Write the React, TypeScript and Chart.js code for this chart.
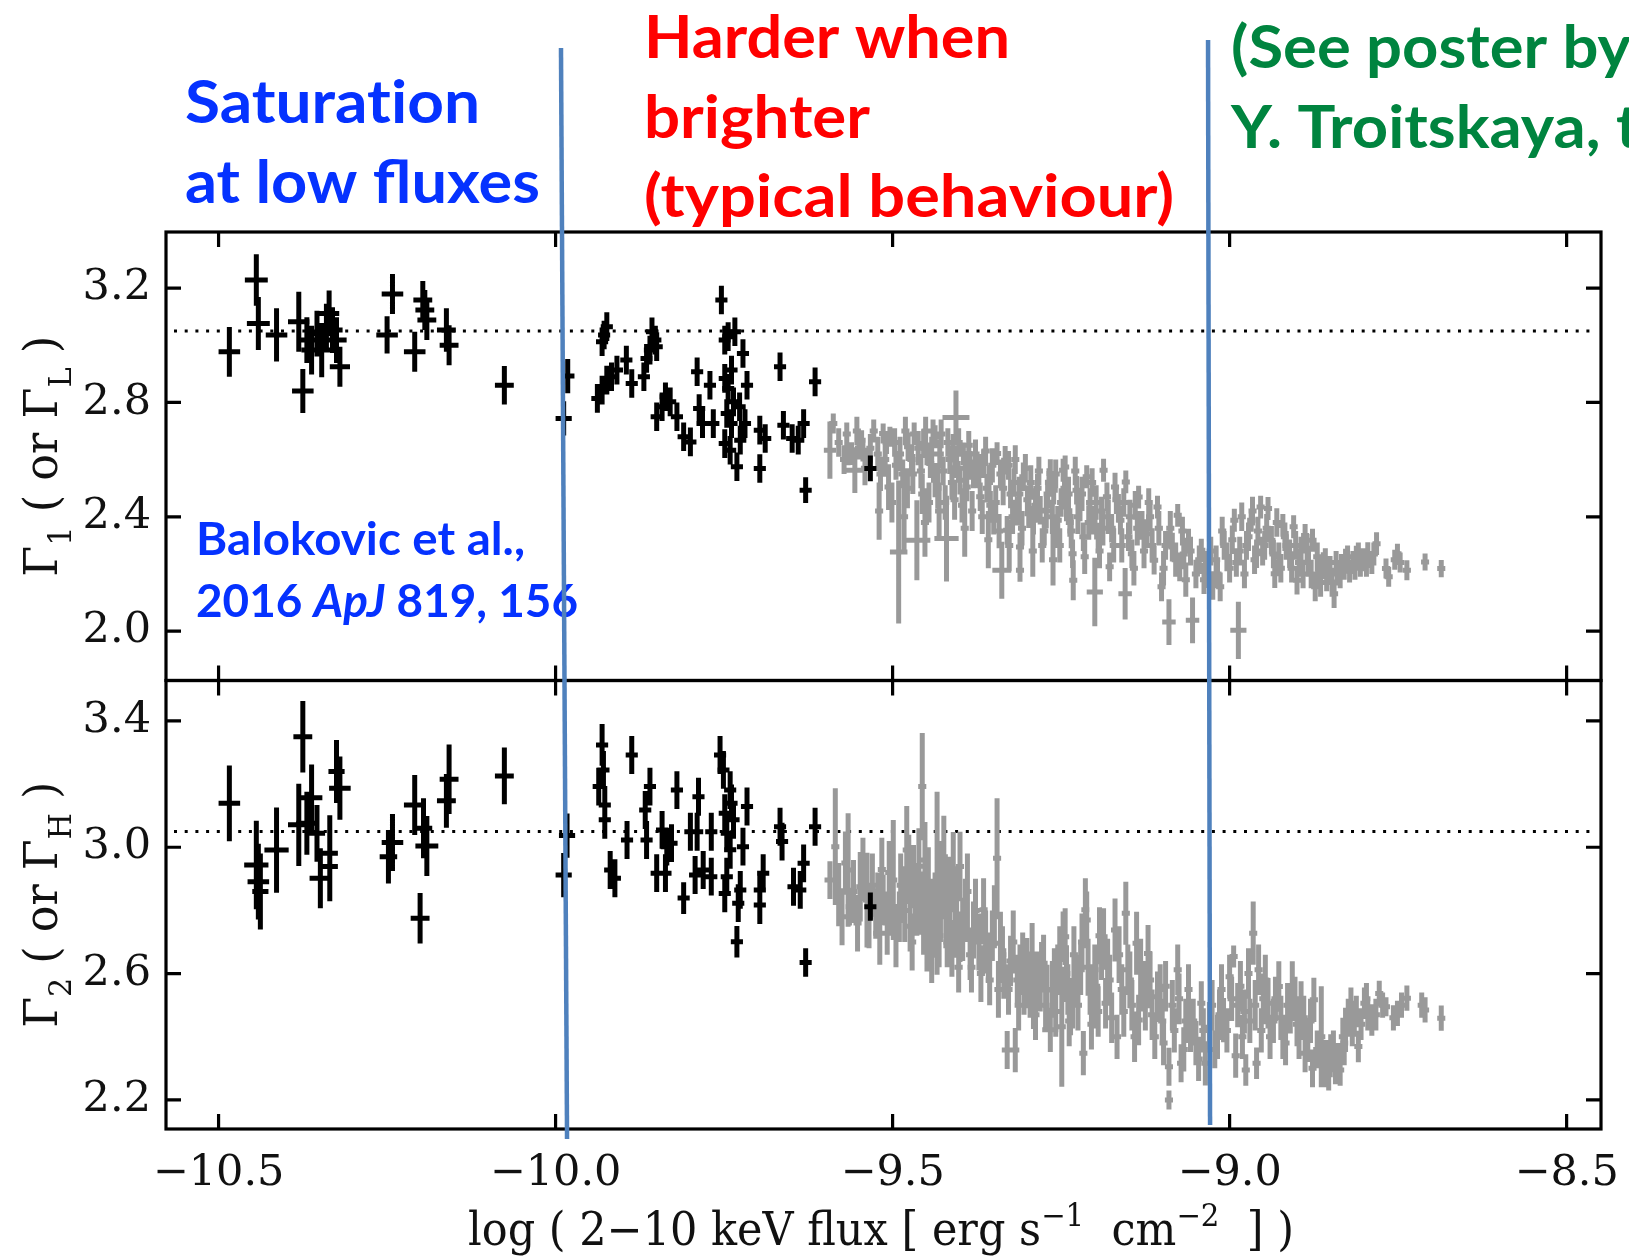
import React, { useEffect, useRef } from 'react';
import { Chart, registerables } from 'chart.js';

Chart.register(...registerables);

// [log flux, photon index, x error, y error]
type Pt = [number, number, number, number];

const xTickValues = [-10.5, -10.0, -9.5, -9.0, -8.5];
const topTickValues = [2.0, 2.4, 2.8, 3.2];
const bottomTickValues = [2.2, 2.6, 3.0, 3.4];
const xRange = [-10.578, -8.449];
const topRange = [1.8275, 3.396];
const bottomRange = [2.108, 3.528];
const referenceIndex = [3.05, 3.05];
// blue divider lines: [flux at top end, flux at bottom end]
const dividerFlux = [
  [-9.992, -9.983],
  [-9.032, -9.029],
];

const topBlack: Pt[] = [
  [-10.484, 2.977, 0.016, 0.087], [-10.444, 3.228, 0.017, 0.09], [-10.441, 3.076, 0.017, 0.093],
  [-10.414, 3.036, 0.016, 0.093], [-10.381, 3.082, 0.016, 0.105], [-10.375, 2.84, 0.016, 0.077],
  [-10.369, 3.018, 0.015, 0.08], [-10.362, 2.983, 0.015, 0.085], [-10.354, 3.041, 0.015, 0.08],
  [-10.347, 2.983, 0.015, 0.095], [-10.34, 3.065, 0.015, 0.08], [-10.336, 3.111, 0.015, 0.08],
  [-10.331, 3.053, 0.015, 0.08], [-10.325, 3.018, 0.015, 0.08], [-10.32, 2.925, 0.015, 0.07],
  [-10.25, 3.036, 0.016, 0.065], [-10.242, 3.179, 0.016, 0.07], [-10.209, 2.977, 0.016, 0.07],
  [-10.197, 3.158, 0.014, 0.067], [-10.194, 3.123, 0.014, 0.07], [-10.191, 3.088, 0.014, 0.07],
  [-10.162, 3.053, 0.014, 0.076], [-10.158, 3.0, 0.014, 0.07], [-10.076, 2.86, 0.014, 0.067],
  [-9.982, 2.892, 0.01, 0.06], [-9.988, 2.744, 0.012, 0.06],
  [-9.928, 3.036, 0.009, 0.05], [-9.924, 3.065, 0.009, 0.05], [-9.931, 3.012, 0.009, 0.05],
  [-9.938, 2.814, 0.009, 0.05], [-9.931, 2.843, 0.009, 0.05], [-9.924, 2.878, 0.009, 0.05],
  [-9.917, 2.89, 0.009, 0.05], [-9.909, 2.913, 0.009, 0.05], [-9.895, 2.948, 0.009, 0.05],
  [-9.887, 2.866, 0.009, 0.05], [-9.869, 2.89, 0.009, 0.05], [-9.865, 2.954, 0.009, 0.05],
  [-9.86, 2.983, 0.009, 0.05], [-9.857, 3.047, 0.009, 0.05], [-9.85, 2.995, 0.009, 0.05],
  [-9.852, 3.018, 0.009, 0.05], [-9.85, 2.75, 0.009, 0.05], [-9.842, 2.785, 0.009, 0.05],
  [-9.837, 2.82, 0.009, 0.05], [-9.83, 2.802, 0.009, 0.05], [-9.82, 2.75, 0.009, 0.05],
  [-9.81, 2.68, 0.009, 0.05], [-9.8, 2.662, 0.009, 0.05], [-9.79, 2.907, 0.009, 0.05],
  [-9.787, 2.779, 0.009, 0.05], [-9.782, 2.726, 0.009, 0.05], [-9.771, 2.86, 0.009, 0.05],
  [-9.766, 2.726, 0.009, 0.05], [-9.754, 3.158, 0.009, 0.05], [-9.749, 3.018, 0.009, 0.05],
  [-9.744, 3.03, 0.009, 0.05], [-9.734, 3.047, 0.009, 0.05], [-9.722, 2.971, 0.009, 0.05],
  [-9.749, 2.884, 0.009, 0.05], [-9.739, 2.913, 0.009, 0.05], [-9.744, 2.849, 0.009, 0.05],
  [-9.736, 2.802, 0.009, 0.05], [-9.727, 2.785, 0.009, 0.05], [-9.716, 2.86, 0.009, 0.05],
  [-9.746, 2.761, 0.009, 0.05], [-9.739, 2.726, 0.009, 0.05], [-9.749, 2.656, 0.009, 0.05],
  [-9.741, 2.633, 0.009, 0.05], [-9.731, 2.575, 0.009, 0.05], [-9.726, 2.668, 0.009, 0.05],
  [-9.719, 2.726, 0.009, 0.05], [-9.697, 2.703, 0.009, 0.05], [-9.689, 2.674, 0.009, 0.05],
  [-9.697, 2.569, 0.009, 0.05], [-9.667, 2.925, 0.009, 0.05], [-9.662, 2.72, 0.009, 0.05],
  [-9.649, 2.674, 0.009, 0.05], [-9.64, 2.668, 0.009, 0.05], [-9.632, 2.726, 0.009, 0.05],
  [-9.615, 2.872, 0.009, 0.05], [-9.629, 2.493, 0.009, 0.045], [-9.533, 2.569, 0.009, 0.045],
];

const topGray: Pt[] = [
  [-9.593, 2.633, 0.009, 0.1], [-9.588, 2.726, 0.006, 0.035], [-9.566, 2.62, 0.006, 0.04],
  [-9.561, 2.621, 0.008, 0.04], [-9.556, 2.563, 0.014, 0.08], [-9.55, 2.64, 0.006, 0.04],
  [-9.546, 2.668, 0.006, 0.035], [-9.544, 2.633, 0.006, 0.04], [-9.538, 2.6, 0.006, 0.04],
  [-9.514, 2.691, 0.006, 0.035], [-9.509, 2.66, 0.006, 0.04], [-9.504, 2.68, 0.006, 0.035],
  [-9.506, 2.504, 0.006, 0.08], [-9.491, 2.277, 0.013, 0.25], [-9.495, 2.58, 0.006, 0.05],
  [-9.485, 2.55, 0.006, 0.05], [-9.477, 2.645, 0.006, 0.05], [-9.472, 2.6, 0.006, 0.05],
  [-9.468, 2.69, 0.006, 0.04], [-9.464, 2.318, 0.02, 0.14], [-9.458, 2.56, 0.006, 0.06],
  [-9.454, 2.656, 0.006, 0.05], [-9.449, 2.62, 0.006, 0.04], [-9.444, 2.586, 0.006, 0.05],
  [-9.44, 2.7, 0.006, 0.04], [-9.437, 2.68, 0.006, 0.04], [-9.437, 2.528, 0.006, 0.06],
  [-9.43, 2.62, 0.006, 0.05], [-9.425, 2.56, 0.006, 0.05], [-9.42, 2.324, 0.018, 0.15],
  [-9.415, 2.6, 0.006, 0.05], [-9.41, 2.64, 0.006, 0.05], [-9.406, 2.747, 0.02, 0.095],
  [-9.405, 2.586, 0.006, 0.05], [-9.4, 2.528, 0.006, 0.05], [-9.395, 2.62, 0.006, 0.04],
  [-9.39, 2.504, 0.006, 0.05], [-9.385, 2.58, 0.006, 0.05], [-9.38, 2.55, 0.006, 0.05],
  [-9.375, 2.551, 0.006, 0.05], [-9.37, 2.47, 0.006, 0.05], [-9.365, 2.586, 0.006, 0.05],
  [-9.36, 2.5, 0.006, 0.05], [-9.355, 2.44, 0.006, 0.05], [-9.35, 2.388, 0.006, 0.05],
  [-9.345, 2.621, 0.006, 0.04], [-9.34, 2.55, 0.006, 0.05], [-9.338, 2.213, 0.014, 0.1],
  [-9.333, 2.598, 0.006, 0.05], [-9.33, 2.353, 0.006, 0.05], [-9.325, 2.48, 0.006, 0.05],
  [-9.32, 2.52, 0.006, 0.05], [-9.315, 2.42, 0.006, 0.05], [-9.311, 2.294, 0.006, 0.05],
  [-9.311, 2.213, 0.006, 0.04], [-9.306, 2.54, 0.006, 0.05], [-9.3, 2.46, 0.006, 0.05],
  [-9.298, 2.411, 0.006, 0.05], [-9.291, 2.388, 0.006, 0.05], [-9.285, 2.5, 0.006, 0.05],
  [-9.281, 2.423, 0.006, 0.05], [-9.275, 2.35, 0.006, 0.05], [-9.27, 2.48, 0.006, 0.05],
  [-9.266, 2.551, 0.006, 0.05], [-9.261, 2.493, 0.006, 0.05], [-9.256, 2.341, 0.006, 0.05],
  [-9.255, 2.388, 0.006, 0.05], [-9.25, 2.45, 0.006, 0.05], [-9.247, 2.563, 0.006, 0.04],
  [-9.244, 2.574, 0.006, 0.04], [-9.242, 2.434, 0.006, 0.05], [-9.237, 2.38, 0.006, 0.05],
  [-9.233, 2.271, 0.006, 0.05], [-9.232, 2.178, 0.006, 0.07], [-9.227, 2.493, 0.006, 0.05],
  [-9.222, 2.434, 0.006, 0.05], [-9.217, 2.33, 0.006, 0.05], [-9.212, 2.54, 0.006, 0.04],
  [-9.207, 2.45, 0.006, 0.05], [-9.202, 2.388, 0.006, 0.05], [-9.2, 2.137, 0.012, 0.12],
  [-9.195, 2.329, 0.006, 0.05], [-9.19, 2.42, 0.006, 0.05], [-9.187, 2.563, 0.006, 0.04],
  [-9.182, 2.47, 0.006, 0.05], [-9.178, 2.225, 0.006, 0.05], [-9.175, 2.36, 0.006, 0.05],
  [-9.17, 2.504, 0.006, 0.05], [-9.165, 2.43, 0.006, 0.05], [-9.162, 2.388, 0.006, 0.05],
  [-9.155, 2.131, 0.01, 0.09], [-9.154, 2.522, 0.006, 0.04], [-9.15, 2.33, 0.006, 0.05],
  [-9.145, 2.271, 0.006, 0.05], [-9.14, 2.44, 0.006, 0.05], [-9.135, 2.469, 0.006, 0.04],
  [-9.13, 2.37, 0.006, 0.05], [-9.123, 2.341, 0.006, 0.05], [-9.118, 2.4, 0.006, 0.05],
  [-9.112, 2.248, 0.006, 0.05], [-9.107, 2.434, 0.006, 0.04], [-9.101, 2.155, 0.006, 0.05],
  [-9.095, 2.3, 0.006, 0.05], [-9.09, 2.032, 0.01, 0.08], [-9.085, 2.294, 0.006, 0.05],
  [-9.077, 2.405, 0.006, 0.04], [-9.074, 2.225, 0.006, 0.05], [-9.068, 2.27, 0.006, 0.05],
  [-9.061, 2.318, 0.006, 0.04], [-9.055, 2.038, 0.01, 0.08], [-9.05, 2.2, 0.006, 0.05],
  [-9.042, 2.283, 0.006, 0.04], [-9.036, 2.23, 0.006, 0.05], [-9.031, 2.201, 0.006, 0.05],
  [-9.025, 2.16, 0.006, 0.05], [-9.02, 2.25, 0.006, 0.05], [-9.014, 2.155, 0.006, 0.05],
  [-9.008, 2.3, 0.006, 0.05], [-9.0, 2.22, 0.006, 0.05], [-8.993, 2.388, 0.006, 0.04],
  [-8.987, 2.003, 0.012, 0.1], [-8.985, 2.28, 0.006, 0.05], [-8.978, 2.2, 0.006, 0.05],
  [-8.972, 2.33, 0.006, 0.05], [-8.968, 2.388, 0.006, 0.04], [-8.963, 2.25, 0.006, 0.05],
  [-8.96, 2.271, 0.006, 0.05], [-8.954, 2.434, 0.006, 0.04], [-8.948, 2.3, 0.006, 0.05],
  [-8.943, 2.429, 0.006, 0.04], [-8.938, 2.318, 0.006, 0.05], [-8.933, 2.201, 0.006, 0.05],
  [-8.927, 2.26, 0.006, 0.05], [-8.921, 2.37, 0.006, 0.04], [-8.916, 2.3, 0.006, 0.05],
  [-8.911, 2.271, 0.006, 0.05], [-8.905, 2.365, 0.006, 0.04], [-8.9, 2.178, 0.006, 0.05],
  [-8.894, 2.28, 0.006, 0.05], [-8.888, 2.335, 0.006, 0.04], [-8.883, 2.24, 0.006, 0.05],
  [-8.877, 2.318, 0.006, 0.04], [-8.873, 2.155, 0.006, 0.05], [-8.867, 2.21, 0.006, 0.05],
  [-8.861, 2.236, 0.006, 0.04], [-8.856, 2.19, 0.006, 0.05], [-8.851, 2.213, 0.006, 0.05],
  [-8.845, 2.131, 0.006, 0.05], [-8.84, 2.2, 0.006, 0.04], [-8.834, 2.23, 0.006, 0.04],
  [-8.828, 2.248, 0.006, 0.04], [-8.822, 2.21, 0.006, 0.04], [-8.817, 2.24, 0.006, 0.04],
  [-8.812, 2.259, 0.006, 0.04], [-8.806, 2.23, 0.006, 0.04], [-8.8, 2.25, 0.006, 0.04],
  [-8.795, 2.271, 0.006, 0.04], [-8.789, 2.24, 0.006, 0.04], [-8.782, 2.306, 0.006, 0.04],
  [-8.768, 2.219, 0.006, 0.035], [-8.751, 2.271, 0.006, 0.035], [-8.747, 2.24, 0.006, 0.035],
  [-8.737, 2.213, 0.006, 0.035], [-8.71, 2.242, 0.006, 0.03], [-8.686, 2.219, 0.006, 0.03],
  [-9.58, 2.66, 0.006, 0.05], [-9.572, 2.6, 0.006, 0.05], [-9.568, 2.69, 0.006, 0.04],
  [-9.553, 2.7, 0.006, 0.05], [-9.541, 2.57, 0.006, 0.06], [-9.533, 2.64, 0.006, 0.05],
  [-9.528, 2.7, 0.006, 0.04], [-9.522, 2.62, 0.006, 0.06], [-9.518, 2.55, 0.006, 0.06],
  [-9.511, 2.6, 0.006, 0.06], [-9.501, 2.45, 0.006, 0.07], [-9.497, 2.66, 0.006, 0.05],
  [-9.489, 2.62, 0.006, 0.06], [-9.481, 2.7, 0.006, 0.05], [-9.478, 2.5, 0.006, 0.07],
  [-9.47, 2.55, 0.006, 0.07], [-9.462, 2.64, 0.006, 0.06], [-9.456, 2.48, 0.006, 0.07],
  [-9.451, 2.7, 0.006, 0.05], [-9.446, 2.45, 0.006, 0.07], [-9.442, 2.62, 0.006, 0.06],
  [-9.433, 2.5, 0.006, 0.07], [-9.428, 2.69, 0.006, 0.05], [-9.422, 2.45, 0.006, 0.06],
  [-9.418, 2.66, 0.006, 0.05], [-9.412, 2.52, 0.006, 0.06], [-9.408, 2.46, 0.006, 0.07],
  [-9.402, 2.66, 0.006, 0.05], [-9.397, 2.44, 0.006, 0.06], [-9.392, 2.57, 0.006, 0.06],
  [-9.387, 2.65, 0.006, 0.05], [-9.382, 2.42, 0.006, 0.07], [-9.377, 2.62, 0.006, 0.05],
  [-9.372, 2.56, 0.006, 0.06], [-9.367, 2.4, 0.006, 0.06], [-9.362, 2.63, 0.006, 0.05],
  [-9.357, 2.52, 0.006, 0.06], [-9.352, 2.58, 0.006, 0.06], [-9.347, 2.45, 0.006, 0.06],
  [-9.342, 2.35, 0.006, 0.06], [-9.336, 2.5, 0.006, 0.06], [-9.328, 2.58, 0.006, 0.05],
  [-9.322, 2.4, 0.006, 0.06], [-9.318, 2.6, 0.006, 0.05], [-9.312, 2.48, 0.006, 0.06],
  [-9.308, 2.36, 0.006, 0.06], [-9.303, 2.57, 0.006, 0.05], [-9.295, 2.52, 0.006, 0.06],
  [-9.288, 2.44, 0.006, 0.06], [-9.283, 2.56, 0.006, 0.05], [-9.278, 2.3, 0.006, 0.06],
  [-9.272, 2.42, 0.006, 0.06], [-9.268, 2.52, 0.006, 0.05], [-9.263, 2.4, 0.006, 0.06],
  [-9.258, 2.55, 0.006, 0.05], [-9.252, 2.3, 0.006, 0.06], [-9.245, 2.5, 0.006, 0.05],
  [-9.239, 2.48, 0.006, 0.06], [-9.235, 2.35, 0.006, 0.06], [-9.229, 2.56, 0.006, 0.05],
  [-9.225, 2.4, 0.006, 0.06], [-9.219, 2.48, 0.006, 0.06], [-9.215, 2.26, 0.006, 0.06],
  [-9.209, 2.38, 0.006, 0.06], [-9.204, 2.52, 0.006, 0.05], [-9.198, 2.45, 0.006, 0.06],
  [-9.193, 2.28, 0.006, 0.06], [-9.188, 2.36, 0.006, 0.06], [-9.18, 2.4, 0.006, 0.06],
  [-9.172, 2.3, 0.006, 0.06], [-9.168, 2.46, 0.006, 0.05], [-9.16, 2.3, 0.006, 0.06],
  [-9.157, 2.45, 0.006, 0.05], [-9.148, 2.4, 0.006, 0.06], [-9.142, 2.22, 0.006, 0.06],
  [-9.137, 2.36, 0.006, 0.06], [-9.127, 2.28, 0.006, 0.06], [-9.12, 2.45, 0.006, 0.05],
  [-9.115, 2.3, 0.006, 0.06], [-9.105, 2.36, 0.006, 0.06], [-9.098, 2.22, 0.006, 0.06],
  [-9.088, 2.36, 0.006, 0.06], [-9.08, 2.25, 0.006, 0.06], [-9.07, 2.35, 0.006, 0.05],
  [-9.065, 2.18, 0.006, 0.06], [-9.058, 2.28, 0.006, 0.05], [-9.045, 2.25, 0.006, 0.05],
  [-9.038, 2.18, 0.006, 0.05], [-9.028, 2.28, 0.006, 0.05], [-9.018, 2.2, 0.006, 0.05],
  [-9.011, 2.35, 0.006, 0.05], [-9.004, 2.26, 0.006, 0.05], [-8.996, 2.32, 0.006, 0.05],
  [-8.99, 2.24, 0.006, 0.05], [-8.982, 2.4, 0.006, 0.05], [-8.975, 2.3, 0.006, 0.05],
  [-8.966, 2.42, 0.006, 0.05], [-8.958, 2.35, 0.006, 0.05], [-8.951, 2.28, 0.006, 0.05],
  [-8.945, 2.36, 0.006, 0.05], [-8.935, 2.27, 0.006, 0.05], [-8.93, 2.38, 0.006, 0.05],
  [-8.924, 2.22, 0.006, 0.05], [-8.918, 2.33, 0.006, 0.05], [-8.908, 2.22, 0.006, 0.05],
  [-8.902, 2.3, 0.006, 0.05], [-8.897, 2.24, 0.006, 0.05], [-8.891, 2.2, 0.006, 0.05],
  [-8.885, 2.29, 0.006, 0.05], [-8.879, 2.2, 0.006, 0.05], [-8.87, 2.26, 0.006, 0.05],
  [-8.865, 2.17, 0.006, 0.05], [-8.858, 2.24, 0.006, 0.05], [-8.848, 2.17, 0.006, 0.05],
  [-8.842, 2.24, 0.006, 0.04], [-8.836, 2.19, 0.006, 0.04], [-8.83, 2.22, 0.006, 0.04],
  [-8.825, 2.26, 0.006, 0.04], [-8.814, 2.22, 0.006, 0.04], [-8.809, 2.27, 0.006, 0.04],
  [-8.803, 2.25, 0.006, 0.04], [-8.797, 2.23, 0.006, 0.04], [-8.786, 2.27, 0.006, 0.04],
  [-8.764, 2.19, 0.006, 0.035], [-8.755, 2.25, 0.006, 0.035],
  [-9.52, 2.42, 0.006, 0.1], [-9.483, 2.4, 0.006, 0.12], [-9.452, 2.38, 0.006, 0.12],
  [-9.431, 2.42, 0.006, 0.1], [-9.393, 2.36, 0.006, 0.1], [-9.358, 2.32, 0.006, 0.1],
  [-9.327, 2.3, 0.006, 0.09], [-9.292, 2.28, 0.006, 0.09], [-9.262, 2.25, 0.006, 0.09],
];

const bottomBlack: Pt[] = [
  [-10.484, 3.139, 0.016, 0.12], [-10.375, 3.35, 0.014, 0.113], [-10.444, 2.944, 0.018, 0.14],
  [-10.441, 2.891, 0.016, 0.12], [-10.438, 2.86, 0.012, 0.12], [-10.414, 2.991, 0.018, 0.135],
  [-10.381, 3.071, 0.016, 0.13], [-10.369, 3.076, 0.016, 0.1], [-10.362, 3.157, 0.016, 0.105],
  [-10.354, 3.044, 0.012, 0.09], [-10.349, 2.902, 0.016, 0.095], [-10.335, 2.981, 0.012, 0.12],
  [-10.335, 2.939, 0.012, 0.11], [-10.325, 3.24, 0.012, 0.1], [-10.32, 3.187, 0.016, 0.1],
  [-10.248, 2.97, 0.013, 0.085], [-10.242, 3.015, 0.016, 0.09], [-10.209, 3.134, 0.016, 0.095],
  [-10.196, 3.06, 0.013, 0.095], [-10.191, 3.004, 0.017, 0.095], [-10.201, 2.775, 0.014, 0.08],
  [-10.162, 3.147, 0.014, 0.085], [-10.158, 3.215, 0.014, 0.11], [-10.076, 3.226, 0.014, 0.09],
  [-9.983, 3.037, 0.012, 0.07], [-9.988, 2.912, 0.012, 0.07],
  [-9.931, 3.324, 0.009, 0.066], [-9.929, 3.245, 0.009, 0.06], [-9.936, 3.192, 0.009, 0.06],
  [-9.927, 3.134, 0.009, 0.06], [-9.927, 3.087, 0.009, 0.06], [-9.887, 3.292, 0.009, 0.06],
  [-9.919, 2.928, 0.009, 0.06], [-9.912, 2.902, 0.009, 0.06], [-9.894, 3.023, 0.009, 0.06],
  [-9.86, 3.192, 0.009, 0.06], [-9.867, 3.118, 0.009, 0.06], [-9.865, 3.023, 0.009, 0.06],
  [-9.85, 2.918, 0.009, 0.06], [-9.842, 3.055, 0.009, 0.06], [-9.835, 3.002, 0.009, 0.06],
  [-9.828, 3.013, 0.009, 0.06], [-9.837, 2.918, 0.009, 0.06], [-9.82, 3.181, 0.009, 0.06],
  [-9.81, 2.839, 0.009, 0.05], [-9.8, 3.049, 0.009, 0.06], [-9.79, 3.049, 0.009, 0.06],
  [-9.788, 3.16, 0.009, 0.06], [-9.793, 2.912, 0.009, 0.06], [-9.781, 2.928, 0.009, 0.06],
  [-9.769, 3.049, 0.009, 0.06], [-9.769, 2.907, 0.009, 0.06], [-9.756, 3.292, 0.009, 0.06],
  [-9.751, 3.245, 0.009, 0.06], [-9.749, 3.108, 0.009, 0.06], [-9.741, 3.181, 0.009, 0.06],
  [-9.739, 3.139, 0.009, 0.06], [-9.736, 3.087, 0.009, 0.06], [-9.746, 3.044, 0.009, 0.06],
  [-9.741, 2.992, 0.009, 0.06], [-9.746, 2.907, 0.009, 0.06], [-9.749, 2.854, 0.009, 0.06],
  [-9.726, 2.865, 0.009, 0.06], [-9.729, 2.823, 0.009, 0.06], [-9.722, 3.002, 0.009, 0.06],
  [-9.716, 3.129, 0.009, 0.06], [-9.731, 2.701, 0.009, 0.05], [-9.697, 2.865, 0.009, 0.06],
  [-9.692, 2.918, 0.009, 0.06], [-9.697, 2.817, 0.009, 0.06], [-9.667, 3.065, 0.009, 0.06],
  [-9.664, 3.018, 0.009, 0.06], [-9.647, 2.875, 0.009, 0.06], [-9.637, 2.865, 0.009, 0.06],
  [-9.632, 2.949, 0.009, 0.06], [-9.615, 3.065, 0.009, 0.06], [-9.629, 2.635, 0.009, 0.045],
  [-9.533, 2.812, 0.009, 0.045],
];

const bottomGray: Pt[] = [
  [-9.593, 2.896, 0.008, 0.06], [-9.585, 3.002, 0.006, 0.185], [-9.566, 2.928, 0.006, 0.18],
  [-9.564, 2.812, 0.006, 0.06], [-9.548, 2.875, 0.006, 0.11], [-9.538, 2.833, 0.006, 0.15],
  [-9.525, 2.79, 0.006, 0.08], [-9.519, 2.728, 0.01, 0.1], [-9.514, 2.833, 0.006, 0.08],
  [-9.505, 2.92, 0.006, 0.1], [-9.499, 2.896, 0.006, 0.19], [-9.49, 2.78, 0.006, 0.08],
  [-9.485, 2.85, 0.006, 0.09], [-9.479, 2.991, 0.006, 0.14], [-9.474, 2.75, 0.006, 0.08],
  [-9.469, 2.907, 0.006, 0.1], [-9.464, 2.82, 0.006, 0.1], [-9.459, 2.823, 0.006, 0.1],
  [-9.456, 3.192, 0.006, 0.17], [-9.452, 2.96, 0.006, 0.12], [-9.449, 2.717, 0.006, 0.11],
  [-9.444, 2.8, 0.006, 0.1], [-9.439, 2.74, 0.006, 0.09], [-9.434, 2.886, 0.006, 0.29],
  [-9.429, 2.8, 0.006, 0.1], [-9.424, 2.97, 0.006, 0.13], [-9.419, 2.7, 0.006, 0.08],
  [-9.415, 2.802, 0.006, 0.1], [-9.41, 2.928, 0.006, 0.12], [-9.405, 2.75, 0.006, 0.1],
  [-9.4, 2.939, 0.006, 0.11], [-9.4, 2.717, 0.006, 0.08], [-9.392, 2.8, 0.006, 0.1],
  [-9.385, 2.66, 0.006, 0.08], [-9.38, 2.738, 0.006, 0.09], [-9.372, 2.7, 0.006, 0.09],
  [-9.365, 2.802, 0.006, 0.1], [-9.358, 2.65, 0.006, 0.08], [-9.352, 2.72, 0.006, 0.08],
  [-9.345, 2.965, 0.006, 0.19], [-9.34, 2.696, 0.006, 0.1], [-9.335, 2.6, 0.006, 0.08],
  [-9.33, 2.358, 0.008, 0.06], [-9.325, 2.64, 0.006, 0.08], [-9.318, 2.358, 0.006, 0.07],
  [-9.315, 2.58, 0.006, 0.08], [-9.311, 2.612, 0.006, 0.08], [-9.305, 2.55, 0.006, 0.08],
  [-9.301, 2.633, 0.006, 0.08], [-9.296, 2.53, 0.006, 0.07], [-9.291, 2.495, 0.006, 0.07],
  [-9.286, 2.59, 0.006, 0.08], [-9.281, 2.56, 0.006, 0.08], [-9.276, 2.633, 0.006, 0.09],
  [-9.271, 2.548, 0.006, 0.08], [-9.266, 2.422, 0.012, 0.07], [-9.26, 2.6, 0.006, 0.08],
  [-9.255, 2.612, 0.006, 0.08], [-9.249, 2.432, 0.006, 0.19], [-9.247, 2.717, 0.006, 0.08],
  [-9.244, 2.717, 0.006, 0.09], [-9.24, 2.55, 0.006, 0.08], [-9.236, 2.485, 0.006, 0.08],
  [-9.233, 2.506, 0.006, 0.08], [-9.228, 2.58, 0.006, 0.08], [-9.221, 2.612, 0.006, 0.08],
  [-9.217, 2.348, 0.006, 0.07], [-9.214, 2.802, 0.006, 0.1], [-9.212, 2.77, 0.006, 0.09],
  [-9.207, 2.55, 0.006, 0.08], [-9.202, 2.506, 0.006, 0.08], [-9.2, 2.612, 0.006, 0.08],
  [-9.195, 2.48, 0.006, 0.08], [-9.19, 2.66, 0.006, 0.08], [-9.187, 2.717, 0.006, 0.09],
  [-9.184, 2.506, 0.006, 0.08], [-9.178, 2.58, 0.006, 0.08], [-9.17, 2.738, 0.006, 0.1],
  [-9.167, 2.4, 0.006, 0.07], [-9.16, 2.55, 0.006, 0.08], [-9.154, 2.791, 0.006, 0.1],
  [-9.151, 2.612, 0.006, 0.08], [-9.145, 2.5, 0.006, 0.08], [-9.138, 2.696, 0.006, 0.1],
  [-9.135, 2.453, 0.006, 0.08], [-9.128, 2.56, 0.006, 0.08], [-9.121, 2.664, 0.006, 0.09],
  [-9.115, 2.47, 0.006, 0.08], [-9.107, 2.527, 0.006, 0.08], [-9.1, 2.45, 0.006, 0.07],
  [-9.095, 2.56, 0.006, 0.08], [-9.09, 2.305, 0.006, 0.06], [-9.09, 2.2, 0.006, 0.03],
  [-9.085, 2.5, 0.006, 0.08], [-9.077, 2.612, 0.006, 0.08], [-9.072, 2.316, 0.006, 0.06],
  [-9.065, 2.45, 0.006, 0.07], [-9.058, 2.422, 0.006, 0.07], [-9.05, 2.38, 0.006, 0.07],
  [-9.042, 2.506, 0.006, 0.07], [-9.036, 2.316, 0.006, 0.07], [-9.03, 2.43, 0.006, 0.08],
  [-9.022, 2.36, 0.006, 0.06], [-9.015, 2.47, 0.006, 0.08], [-9.009, 2.453, 0.006, 0.07],
  [-9.0, 2.59, 0.006, 0.07], [-8.994, 2.654, 0.006, 0.035], [-8.988, 2.5, 0.006, 0.07],
  [-8.981, 2.4, 0.006, 0.07], [-8.976, 2.295, 0.006, 0.05], [-8.97, 2.45, 0.006, 0.07],
  [-8.965, 2.728, 0.006, 0.1], [-8.96, 2.316, 0.006, 0.05], [-8.957, 2.612, 0.006, 0.08],
  [-8.95, 2.52, 0.006, 0.08], [-8.943, 2.506, 0.006, 0.08], [-8.935, 2.45, 0.006, 0.07],
  [-8.927, 2.559, 0.006, 0.08], [-8.921, 2.4, 0.006, 0.07], [-8.914, 2.5, 0.006, 0.07],
  [-8.907, 2.559, 0.006, 0.08], [-8.9, 2.44, 0.006, 0.07], [-8.894, 2.506, 0.006, 0.07],
  [-8.888, 2.348, 0.006, 0.06], [-8.88, 2.45, 0.006, 0.07], [-8.875, 2.517, 0.006, 0.07],
  [-8.864, 2.4, 0.006, 0.16], [-8.857, 2.33, 0.006, 0.06], [-8.85, 2.348, 0.006, 0.06],
  [-8.843, 2.3, 0.006, 0.05], [-8.836, 2.295, 0.006, 0.05], [-8.83, 2.38, 0.006, 0.07],
  [-8.828, 2.422, 0.006, 0.07], [-8.82, 2.506, 0.006, 0.05], [-8.815, 2.45, 0.006, 0.05],
  [-8.809, 2.369, 0.006, 0.05], [-8.8, 2.506, 0.006, 0.05], [-8.795, 2.47, 0.006, 0.05],
  [-8.789, 2.453, 0.006, 0.05], [-8.778, 2.537, 0.006, 0.04], [-8.768, 2.495, 0.006, 0.03],
  [-8.751, 2.474, 0.006, 0.04], [-8.737, 2.522, 0.006, 0.04], [-8.71, 2.485, 0.006, 0.04],
  [-8.686, 2.459, 0.006, 0.04],
  [-9.58, 2.85, 0.006, 0.1], [-9.575, 2.78, 0.006, 0.09], [-9.57, 2.95, 0.006, 0.1],
  [-9.558, 2.86, 0.006, 0.1], [-9.552, 2.76, 0.006, 0.09], [-9.544, 2.93, 0.006, 0.1],
  [-9.535, 2.78, 0.006, 0.1], [-9.53, 2.88, 0.006, 0.1], [-9.522, 2.82, 0.006, 0.1],
  [-9.516, 2.93, 0.006, 0.1], [-9.508, 2.76, 0.006, 0.1], [-9.502, 2.84, 0.006, 0.12],
  [-9.495, 2.72, 0.006, 0.1], [-9.488, 2.88, 0.006, 0.1], [-9.482, 2.8, 0.006, 0.1],
  [-9.476, 2.93, 0.006, 0.11], [-9.471, 2.7, 0.006, 0.09], [-9.466, 2.85, 0.006, 0.1],
  [-9.461, 2.94, 0.006, 0.12], [-9.454, 2.76, 0.006, 0.1], [-9.447, 2.88, 0.006, 0.12],
  [-9.442, 2.66, 0.006, 0.09], [-9.437, 2.82, 0.006, 0.1], [-9.431, 2.72, 0.006, 0.1],
  [-9.427, 2.9, 0.006, 0.12], [-9.421, 2.78, 0.006, 0.1], [-9.417, 2.86, 0.006, 0.11],
  [-9.412, 2.68, 0.006, 0.09], [-9.407, 2.84, 0.006, 0.1], [-9.402, 2.62, 0.006, 0.08],
  [-9.396, 2.74, 0.006, 0.1], [-9.389, 2.86, 0.006, 0.12], [-9.383, 2.62, 0.006, 0.08],
  [-9.377, 2.8, 0.006, 0.1], [-9.369, 2.6, 0.006, 0.09], [-9.362, 2.7, 0.006, 0.1],
  [-9.356, 2.58, 0.006, 0.08], [-9.349, 2.78, 0.006, 0.1], [-9.343, 2.55, 0.006, 0.09],
  [-9.337, 2.66, 0.006, 0.09], [-9.328, 2.55, 0.006, 0.08], [-9.321, 2.7, 0.006, 0.1],
  [-9.313, 2.5, 0.006, 0.08], [-9.307, 2.64, 0.006, 0.09], [-9.299, 2.58, 0.006, 0.09],
  [-9.293, 2.66, 0.006, 0.1], [-9.288, 2.47, 0.006, 0.08], [-9.279, 2.62, 0.006, 0.08],
  [-9.273, 2.5, 0.006, 0.08], [-9.263, 2.55, 0.006, 0.09], [-9.258, 2.48, 0.006, 0.08],
  [-9.252, 2.66, 0.006, 0.09], [-9.242, 2.6, 0.006, 0.09], [-9.238, 2.45, 0.006, 0.08],
  [-9.231, 2.66, 0.006, 0.09], [-9.225, 2.5, 0.006, 0.08], [-9.219, 2.7, 0.006, 0.09],
  [-9.21, 2.62, 0.006, 0.09], [-9.205, 2.44, 0.006, 0.08], [-9.198, 2.56, 0.006, 0.08],
  [-9.193, 2.72, 0.006, 0.09], [-9.181, 2.62, 0.006, 0.09], [-9.175, 2.46, 0.006, 0.08],
  [-9.164, 2.66, 0.006, 0.09], [-9.157, 2.48, 0.006, 0.08], [-9.148, 2.58, 0.006, 0.09],
  [-9.141, 2.4, 0.006, 0.08], [-9.132, 2.62, 0.006, 0.09], [-9.125, 2.5, 0.006, 0.08],
  [-9.118, 2.58, 0.006, 0.09], [-9.111, 2.4, 0.006, 0.07], [-9.103, 2.55, 0.006, 0.08],
  [-9.098, 2.38, 0.006, 0.07], [-9.082, 2.42, 0.006, 0.07], [-9.075, 2.52, 0.006, 0.08],
  [-9.068, 2.36, 0.006, 0.07], [-9.061, 2.55, 0.006, 0.08], [-9.054, 2.45, 0.006, 0.07],
  [-9.046, 2.33, 0.006, 0.07], [-9.039, 2.42, 0.006, 0.07], [-9.026, 2.5, 0.006, 0.08],
  [-9.018, 2.4, 0.006, 0.07], [-9.012, 2.55, 0.006, 0.08], [-9.004, 2.42, 0.006, 0.07],
  [-8.997, 2.52, 0.006, 0.07], [-8.991, 2.34, 0.006, 0.07], [-8.984, 2.56, 0.006, 0.08],
  [-8.978, 2.48, 0.006, 0.07], [-8.972, 2.6, 0.006, 0.08], [-8.962, 2.5, 0.006, 0.08],
  [-8.953, 2.42, 0.006, 0.07], [-8.947, 2.58, 0.006, 0.08], [-8.94, 2.4, 0.006, 0.07],
  [-8.932, 2.52, 0.006, 0.07], [-8.924, 2.46, 0.006, 0.07], [-8.917, 2.38, 0.006, 0.07],
  [-8.91, 2.48, 0.006, 0.07], [-8.903, 2.52, 0.006, 0.07], [-8.897, 2.4, 0.006, 0.07],
  [-8.89, 2.46, 0.006, 0.07], [-8.884, 2.39, 0.006, 0.07], [-8.877, 2.3, 0.006, 0.06],
  [-8.87, 2.36, 0.006, 0.06], [-8.86, 2.3, 0.006, 0.06], [-8.853, 2.28, 0.006, 0.05],
  [-8.846, 2.36, 0.006, 0.06], [-8.839, 2.33, 0.006, 0.05], [-8.832, 2.4, 0.006, 0.06],
  [-8.824, 2.46, 0.006, 0.06], [-8.818, 2.42, 0.006, 0.05], [-8.812, 2.48, 0.006, 0.05],
  [-8.805, 2.44, 0.006, 0.05], [-8.797, 2.52, 0.006, 0.05], [-8.783, 2.47, 0.006, 0.05],
  [-8.773, 2.5, 0.006, 0.04], [-8.757, 2.46, 0.006, 0.04], [-8.745, 2.5, 0.006, 0.04],
  [-8.715, 2.5, 0.006, 0.04],
];

type Seg = { t: string; sub?: boolean; sup?: boolean; it?: boolean };

const BLUE = '#0532FF';
const RED = '#FF0000';
const GREEN = '#00843F';
const GRAY = '#999999';
const DIVIDER = '#4F81BD';

const noteLines: { segs: Seg[]; color: string; x: number; y: number; w?: number; sameScaleAs?: number; size: number }[] = [
  { segs: [{ t: 'Saturat' }, { t: 'ion' }], color: BLUE, x: 185, y: 123, w: 295, size: 60 },
  { segs: [{ t: 'at low fluxes' }], color: BLUE, x: 185, y: 203, w: 355, size: 60 },
  { segs: [{ t: 'Harder when' }], color: RED, x: 644, y: 58, w: 366, size: 60 },
  { segs: [{ t: 'brighter' }], color: RED, x: 644, y: 138, w: 226, size: 60 },
  { segs: [{ t: '(typical behaviour)' }], color: RED, x: 644, y: 217, w: 530, size: 60 },
  { segs: [{ t: '(See poster by' }], color: GREEN, x: 1231, y: 68, w: 400, size: 60 },
  { segs: [{ t: 'Y. Troitskaya, this conference)' }], color: GREEN, x: 1231, y: 148, sameScaleAs: 5, size: 60 },
  { segs: [{ t: 'Balokovic et al.,' }], color: BLUE, x: 196, y: 555, w: 329, size: 45 },
  { segs: [{ t: '2016 ' }, { t: 'ApJ', it: true }, { t: ' 819, 156' }], color: BLUE, x: 196, y: 617, w: 382, size: 45 },
];

const xTitle: Seg[] = [
  { t: 'log ( 2\u221210 keV flux [ erg s' }, { t: '\u22121', sup: true }, { t: '  cm' }, { t: '\u22122', sup: true }, { t: '  ] )' },
];
const topTitle: Seg[] = [{ t: '\u0393' }, { t: '1', sub: true }, { t: ' ( or \u0393' }, { t: 'L', sub: true }, { t: ' )' }];
const bottomTitle: Seg[] = [{ t: '\u0393' }, { t: '2', sub: true }, { t: ' ( or \u0393' }, { t: 'H', sub: true }, { t: ' )' }];

function segFont(seg: Seg, family: string, size: number, weight: string) {
  const s = seg.sub || seg.sup ? size * 0.68 : size;
  return `${seg.it ? 'italic ' : ''}${weight} ${s}px "${family}"`;
}
function measureRich(ctx: CanvasRenderingContext2D, segs: Seg[], family: string, size: number, weight: string) {
  let w = 0;
  for (const s of segs) {
    ctx.font = segFont(s, family, size, weight);
    w += ctx.measureText(s.t).width;
  }
  return w;
}
function drawRich(ctx: CanvasRenderingContext2D, segs: Seg[], family: string, size: number, weight: string) {
  let x = 0;
  for (const s of segs) {
    ctx.font = segFont(s, family, size, weight);
    const dy = s.sub ? size * 0.3 : s.sup ? -size * 0.42 : 0;
    ctx.fillText(s.t, x, dy);
    x += ctx.measureText(s.t).width;
  }
}

const toData = (pts: Pt[]) => pts.map(([x, y, xe, ye]) => ({ x, y, xe, ye }));

const errorBarPlugin = {
  id: 'errorBars',
  afterDatasetsDraw(chart: any) {
    const ctx: CanvasRenderingContext2D = chart.ctx;
    const xs = chart.scales.x;
    chart.data.datasets.forEach((ds: any, i: number) => {
      const ys = chart.scales[ds.yAxisID];
      const meta = chart.getDatasetMeta(i);
      ctx.save();
      ctx.beginPath();
      ctx.rect(xs.left, ys.top, xs.right - xs.left, ys.bottom - ys.top);
      ctx.clip();
      ctx.strokeStyle = ds.borderColor;
      ctx.lineWidth = ds.errWidth;
      ctx.lineCap = 'butt';
      ctx.beginPath();
      ds.data.forEach((p: any, j: number) => {
        const el = meta.data[j];
        const cx = el.x;
        const cy = el.y;
        ctx.moveTo(xs.getPixelForValue(p.x - p.xe), cy);
        ctx.lineTo(xs.getPixelForValue(p.x + p.xe), cy);
        ctx.moveTo(cx, ys.getPixelForValue(p.y + p.ye));
        ctx.lineTo(cx, ys.getPixelForValue(p.y - p.ye));
      });
      ctx.stroke();
      ctx.restore();
    });
  },
};

const framePlugin = {
  id: 'frame',
  beforeDatasetsDraw(chart: any) {
    const ctx: CanvasRenderingContext2D = chart.ctx;
    const xs = chart.scales.x;
    ['yTop', 'yBot'].forEach((id, k) => {
      const ys = chart.scales[id];
      const y = ys.getPixelForValue(referenceIndex[k]);
      ctx.save();
      ctx.strokeStyle = '#000';
      ctx.lineWidth = 3;
      ctx.setLineDash([3, 7.7]);
      ctx.beginPath();
      ctx.moveTo(xs.left + 8, y);
      ctx.lineTo(xs.right - 4, y);
      ctx.stroke();
      ctx.restore();
    });
  },
  afterDraw(chart: any) {
    const ctx: CanvasRenderingContext2D = chart.ctx;
    const xs = chart.scales.x;
    const tick = 15;
    ctx.save();
    ctx.strokeStyle = '#000';
    ctx.lineWidth = 3.2;
    [['yTop', topTickValues], ['yBot', bottomTickValues]].forEach(([id, vals]: any) => {
      const ys = chart.scales[id];
      ctx.strokeRect(xs.left, ys.top, xs.right - xs.left, ys.bottom - ys.top);
      ctx.beginPath();
      xTickValues.forEach((v) => {
        const px = xs.getPixelForValue(v);
        ctx.moveTo(px, ys.top);
        ctx.lineTo(px, ys.top + tick);
        ctx.moveTo(px, ys.bottom);
        ctx.lineTo(px, ys.bottom - tick);
      });
      vals.forEach((v: number) => {
        const py = ys.getPixelForValue(v);
        ctx.moveTo(xs.left, py);
        ctx.lineTo(xs.left + tick, py);
        ctx.moveTo(xs.right, py);
        ctx.lineTo(xs.right - tick, py);
      });
      ctx.stroke();
    });
    ctx.restore();

    // axis titles
    const serif = 'DejaVu Serif';
    ctx.save();
    ctx.fillStyle = '#111';
    ctx.textBaseline = 'alphabetic';
    ctx.textAlign = 'left';
    const drawScaled = (segs: Seg[], size: number, width: number) => {
      const nat = measureRich(ctx, segs, serif, size, 'normal');
      ctx.scale(width / nat, 1);
      drawRich(ctx, segs, serif, size, 'normal');
    };
    ctx.save();
    ctx.translate(468, 1245);
    drawScaled(xTitle, 46, 826);
    ctx.restore();
    [[topTitle, 'yTop', 241], [bottomTitle, 'yBot', 246]].forEach(([segs, id, len]: any) => {
      const ys = chart.scales[id];
      ctx.save();
      ctx.translate(57, (ys.top + ys.bottom) / 2);
      ctx.rotate(-Math.PI / 2);
      ctx.translate(-len / 2, 0);
      drawScaled(segs, 46, len);
      ctx.restore();
    });
    ctx.restore();
  },
};

const notePlugin = {
  id: 'notes',
  afterDraw(chart: any) {
    const ctx: any = chart.ctx;
    const xs = chart.scales.x;
    const fam = 'Lato';
    ctx.save();
    ctx.textBaseline = 'alphabetic';
    ctx.textAlign = 'left';
    const scales: number[] = [];
    noteLines.forEach((n, i) => {
      const nat = measureRich(ctx, n.segs, fam, n.size, 'bold');
      const sx = n.w ? n.w / nat : scales[n.sameScaleAs ?? 0];
      scales[i] = sx;
      ctx.save();
      ctx.fillStyle = n.color;
      ctx.translate(n.x, n.y);
      ctx.scale(sx, 1);
      drawRich(ctx, n.segs, fam, n.size, 'bold');
      ctx.restore();
    });
    // divider lines
    const ends = [
      [48, 1139],
      [40, 1125],
    ];
    ctx.strokeStyle = DIVIDER;
    ctx.lineWidth = 4.5;
    dividerFlux.forEach(([a, b], k) => {
      ctx.beginPath();
      ctx.moveTo(xs.getPixelForValue(a), ends[k][0]);
      ctx.lineTo(xs.getPixelForValue(b), ends[k][1]);
      ctx.stroke();
    });
    ctx.restore();
  },
};

const fmt = (v: number) => (v < 0 ? '\u2212' + Math.abs(v).toFixed(1) : v.toFixed(1));

export default function App() {
  const ref = useRef<HTMLCanvasElement | null>(null);
  useEffect(() => {
    document.body.style.margin = '0';
    const canvas = ref.current;
    if (!canvas) return;
    const tickFont = { family: 'DejaVu Serif', size: 43 };
    const yCommon = (range: number[], ticks: number[], weight: number) => ({
      type: 'linear' as const,
      position: 'left' as const,
      stack: 'panels',
      stackWeight: 1,
      weight,
      min: range[0],
      max: range[1],
      grid: { display: false, drawTicks: false },
      border: { display: false },
      ticks: { font: tickFont, color: '#111', padding: 15, callback: (v: any) => fmt(Number(v)) },
      afterBuildTicks: (s: any) => {
        s.ticks = ticks.map((v) => ({ value: v }));
      },
      afterFit: (s: any) => {
        s.width = 166;
        s.paddingTop = 0;
        s.paddingBottom = 0;
      },
    });
    const chart = new Chart(canvas, {
      type: 'scatter',
      data: {
        datasets: [
          { label: 'Top XRT', data: toData(topGray), yAxisID: 'yTop', xAxisID: 'x', borderColor: GRAY, backgroundColor: GRAY, pointRadius: 0, errWidth: 5 } as any,
          { label: 'Top', data: toData(topBlack), yAxisID: 'yTop', xAxisID: 'x', borderColor: '#000', backgroundColor: '#000', pointRadius: 0, errWidth: 5 } as any,
          { label: 'Bottom XRT', data: toData(bottomGray), yAxisID: 'yBot', xAxisID: 'x', borderColor: GRAY, backgroundColor: GRAY, pointRadius: 0, errWidth: 5 } as any,
          { label: 'Bottom', data: toData(bottomBlack), yAxisID: 'yBot', xAxisID: 'x', borderColor: '#000', backgroundColor: '#000', pointRadius: 0, errWidth: 5 } as any,
        ],
      },
      options: {
        responsive: false,
        animation: false,
        devicePixelRatio: 1,
        events: [],
        layout: { padding: { left: 0, right: 28, top: 232, bottom: 0 } },
        plugins: { legend: { display: false }, tooltip: { enabled: false } },
        scales: {
          x: {
            type: 'linear',
            position: 'bottom',
            min: xRange[0],
            max: xRange[1],
            grid: { display: false, drawTicks: false },
            border: { display: false },
            ticks: { font: tickFont, color: '#111', padding: 19, maxRotation: 0, autoSkip: false, callback: (v: any) => fmt(Number(v)) },
            afterBuildTicks: (s: any) => {
              s.ticks = xTickValues.map((v) => ({ value: v }));
            },
            afterFit: (s: any) => {
              s.height = 127;
              s.paddingLeft = 0;
              s.paddingRight = 0;
            },
          } as any,
          yTop: yCommon(topRange, topTickValues, 2) as any,
          yBot: yCommon(bottomRange, bottomTickValues, 1) as any,
        },
      },
      plugins: [errorBarPlugin, framePlugin, notePlugin],
    });
    return () => chart.destroy();
  }, []);
  return (
    <div style={{ width: 1629, height: 1256, overflow: 'hidden', background: '#fff' }}>
      <canvas ref={ref} width={1629} height={1256} style={{ display: 'block' }} />
    </div>
  );
}
